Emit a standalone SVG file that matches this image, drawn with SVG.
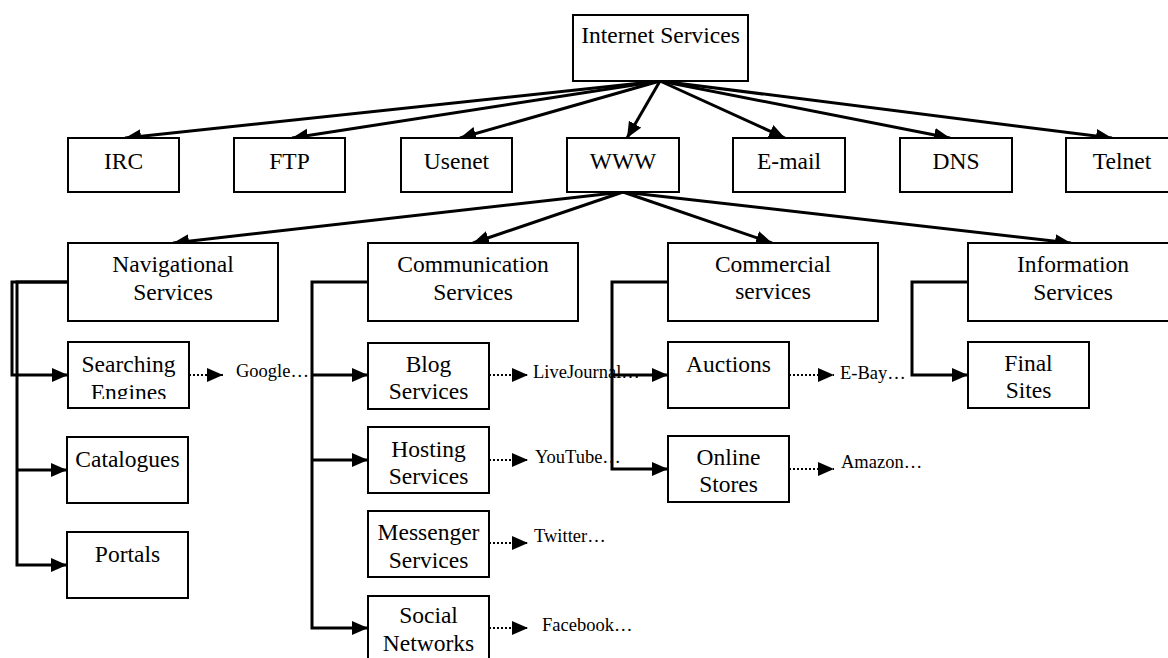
<svg xmlns="http://www.w3.org/2000/svg" width="1168" height="658" viewBox="0 0 1168 658">
<style>
.box{fill:#fff;stroke:#000;stroke-width:2}
text{font-family:'Liberation Serif','Times New Roman','DejaVu Serif',serif}
.t{font-size:23.5px;text-anchor:middle;fill:#000}
.s{font-size:18.5px;fill:#000}
.c{fill:none;stroke:#000;stroke-width:3}
.d{fill:none;stroke:#000;stroke-width:2;stroke-dasharray:2 2}
</style>
<defs>
<marker id="ah" markerUnits="userSpaceOnUse" markerWidth="17" markerHeight="15" refX="16" refY="7" orient="auto">
<path d="M0,0 L16,7 L0,14 z" fill="#000"/>
</marker>
<clipPath id="clipSE"><rect x="68" y="342" width="121" height="57"/></clipPath>
</defs>
<rect width="1168" height="658" fill="#fff"/>

<g id="labels" font-family="Liberation Serif, serif">
<text class="s" x="236" y="377">Google…</text>
<text class="s" x="533" y="378">LiveJournal…</text>
<text class="s" x="535" y="463">YouTube…</text>
<text class="s" x="534" y="542">Twitter…</text>
<text class="s" x="542" y="631">Facebook…</text>
<text class="s" x="840" y="379">E-Bay…</text>
<text class="s" x="841" y="468">Amazon…</text>
</g>

<g id="connectors">
<g marker-end="url(#ah)" class="c">
<line x1="660" y1="81" x2="125" y2="138"/>
<line x1="660" y1="81" x2="292" y2="138"/>
<line x1="660" y1="81" x2="460" y2="138"/>
<line x1="660" y1="81" x2="627" y2="138"/>
<line x1="660" y1="81" x2="785" y2="138"/>
<line x1="660" y1="81" x2="950" y2="138"/>
<line x1="660" y1="81" x2="1112" y2="138"/>
<line x1="623" y1="192" x2="173" y2="243"/>
<line x1="623" y1="192" x2="473" y2="243"/>
<line x1="623" y1="192" x2="772" y2="243"/>
<line x1="623" y1="192" x2="1071" y2="243"/>
<path d="M68,282 H12 V375 H68"/>
<path d="M68,282 H17 V565 H67"/>
<path d="M17,470 H67"/>
<path d="M368,282 H312 V628 H368"/>
<path d="M312,375 H368"/>
<path d="M312,460 H368"/>
<path d="M668,282 H612 V469 H668"/>
<path d="M612,375 H668"/>
<path d="M968,282 H912 V375 H968"/>
</g>
<g marker-end="url(#ah)" class="d">
<path d="M189,375 H223"/>
<path d="M489,375 H528"/>
<path d="M489,460 H528"/>
<path d="M489,543 H528"/>
<path d="M489,628 H528"/>
<path d="M789,375 H834"/>
<path d="M789,469 H834"/>
</g>
</g>

<g id="internet-services"><rect class="box" x="573" y="15" width="175" height="66"/><text class="t" x="660.5" y="43">Internet Services</text></g>
<g id="irc"><rect class="box" x="68" y="138" width="111" height="54"/><text class="t" x="123.5" y="169">IRC</text></g>
<g id="ftp"><rect class="box" x="234" y="138" width="111" height="54"/><text class="t" x="289.5" y="169">FTP</text></g>
<g id="usenet"><rect class="box" x="401" y="138" width="111" height="54"/><text class="t" x="456.5" y="169">Usenet</text></g>
<g id="www"><rect class="box" x="567" y="138" width="112" height="54"/><text class="t" x="623" y="169">WWW</text></g>
<g id="email"><rect class="box" x="733" y="138" width="112" height="54"/><text class="t" x="789" y="169">E-mail</text></g>
<g id="dns"><rect class="box" x="900" y="138" width="112" height="54"/><text class="t" x="956" y="169">DNS</text></g>
<g id="telnet"><rect class="box" x="1066" y="138" width="120" height="54"/><text class="t" x="1122" y="169">Telnet</text></g>

<g id="navigational"><rect class="box" x="68" y="243" width="210" height="78"/><text class="t" x="173" y="272">Navigational</text><text class="t" x="173" y="300">Services</text></g>
<g id="communication"><rect class="box" x="368" y="243" width="210" height="78"/><text class="t" x="473" y="272">Communication</text><text class="t" x="473" y="300">Services</text></g>
<g id="commercial"><rect class="box" x="668" y="243" width="210" height="78"/><text class="t" x="773" y="272">Commercial</text><text class="t" x="773" y="299">services</text></g>
<g id="information"><rect class="box" x="968" y="243" width="210" height="78"/><text class="t" x="1073" y="272">Information</text><text class="t" x="1073" y="300">Services</text></g>

<g id="searching"><rect class="box" x="68" y="342" width="121" height="66"/><g clip-path="url(#clipSE)"><text class="t" x="128.5" y="372">Searching</text><text class="t" x="128.5" y="400">Engines</text></g></g>
<g id="catalogues"><rect class="box" x="67" y="437" width="121" height="66"/><text class="t" x="127.5" y="467">Catalogues</text></g>
<g id="portals"><rect class="box" x="67" y="532" width="121" height="66"/><text class="t" x="127.5" y="562">Portals</text></g>

<g id="blog"><rect class="box" x="368" y="343" width="121" height="66"/><text class="t" x="428.5" y="372">Blog</text><text class="t" x="428.5" y="399">Services</text></g>
<g id="hosting"><rect class="box" x="368" y="427" width="121" height="66"/><text class="t" x="428.5" y="457">Hosting</text><text class="t" x="428.5" y="484">Services</text></g>
<g id="messenger"><rect class="box" x="368" y="511" width="121" height="66"/><text class="t" x="428.5" y="540">Messenger</text><text class="t" x="428.5" y="568">Services</text></g>
<g id="social"><rect class="box" x="368" y="596" width="121" height="66"/><text class="t" x="428.5" y="623">Social</text><text class="t" x="428.5" y="651">Networks</text></g>

<g id="auctions"><rect class="box" x="668" y="342" width="121" height="66"/><text class="t" x="728.5" y="372">Auctions</text></g>
<g id="online-stores"><rect class="box" x="668" y="436" width="121" height="66"/><text class="t" x="728.5" y="465">Online</text><text class="t" x="728.5" y="492">Stores</text></g>

<g id="final-sites"><rect class="box" x="968" y="342" width="121" height="66"/><text class="t" x="1028.5" y="371">Final</text><text class="t" x="1028.5" y="398">Sites</text></g>
</svg>
